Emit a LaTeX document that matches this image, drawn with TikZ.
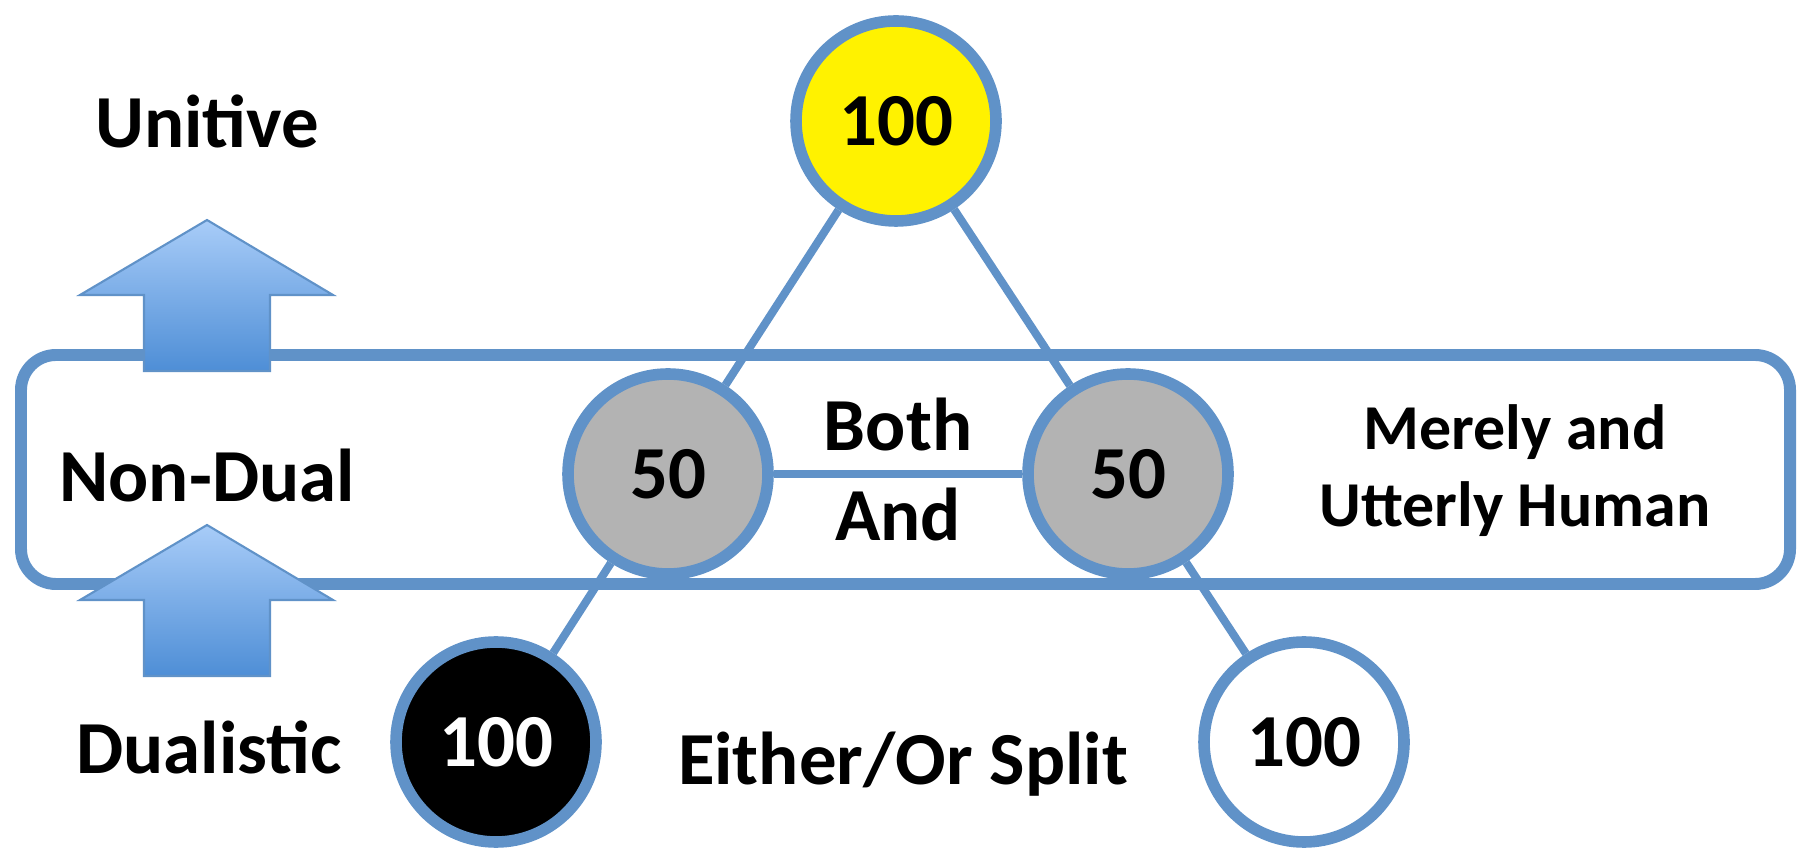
\documentclass[tikz,border=0pt]{standalone}
\usepackage{fontspec}
\setmainfont{Carlito}
\usetikzlibrary{shadows}
\newcommand\lvlfont{\fontsize{21.3}{25.6}\selectfont\bfseries}
\newcommand\sidefont{\fontsize{18.2}{21.9}\selectfont\bfseries}
\definecolor{rimcol}{RGB}{96,146,200}
\definecolor{halfcol}{RGB}{179,179,179}
\definecolor{arrtop}{RGB}{168,204,248}
\definecolor{arrbot}{RGB}{78,142,214}
\tikzstyle{level}=[circle,draw=rimcol,line width=3.3pt,minimum size=2cm,
  inner sep=0pt,font=\lvlfont,drop shadow={opacity=0.25,shadow xshift=0.02cm,shadow yshift=-0.04cm}]
\tikzstyle{link}=[draw=rimcol,line width=2.3pt]
\tikzstyle{lift}=[draw=rimcol,line width=0.6pt,top color=arrtop,bottom color=arrbot]
\tikzstyle{lbl}=[font=\lvlfont,anchor=base,align=center,inner sep=0pt]

\begin{document}
\begin{tikzpicture}
  \useasboundingbox (0,0) rectangle (18.05,8.49);
  % band of the middle level
  \draw[rimcol,line width=3.4pt,rounded corners=0.35cm,fill=white,
    drop shadow={opacity=0.25,shadow xshift=0.02cm,shadow yshift=-0.04cm}]
    (0.21,2.65) rectangle (17.90,4.94);
  % arrows up
  \foreach \dy in {0,-3.05}
    \draw[lift,shift={(0,\dy)}] (2.07,6.29) -- (3.33,5.54) -- (2.70,5.54) -- (2.70,4.78)
      -- (1.44,4.78) -- (1.44,5.54) -- (0.80,5.54) -- cycle;
  % levels
  \node[level,fill=yellow] (unit) at (8.96,7.28) {100};
  \node[level,fill=halfcol] (halfL) at (6.68,3.75) {50};
  \node[level,fill=halfcol] (halfR) at (11.28,3.75) {50};
  \node[level,fill=black,text=white] (dark) at (4.96,1.07) {100};
  \node[level,fill=white] (light) at (13.04,1.07) {100};
  \draw[link] (unit) -- (halfL);
  \draw[link] (unit) -- (halfR);
  \draw[link] (halfL) -- (halfR);
  \draw[link] (halfL) -- (dark);
  \draw[link] (halfR) -- (light);
  % texts
  \node[lbl] (unitive) at (2.07,7.01) {Unitive};
  \node[lbl] (nondual) at (2.07,3.47) {Non-Dual};
  \node[lbl] (dualistic) at (2.09,0.76) {Dualistic};
  \node[lbl] (both) at (8.98,3.98) {Both};
  \node[lbl] (and) at (8.98,3.08) {And};
  \node[lbl,font=\sidefont] (merely) at (15.15,3.99) {Merely and};
  \node[lbl,font=\sidefont] (utterly) at (15.15,3.22) {Utterly Human};
  \node[lbl] (split) at (9.03,0.64) {Either/Or Split};
\end{tikzpicture}
\end{document}
